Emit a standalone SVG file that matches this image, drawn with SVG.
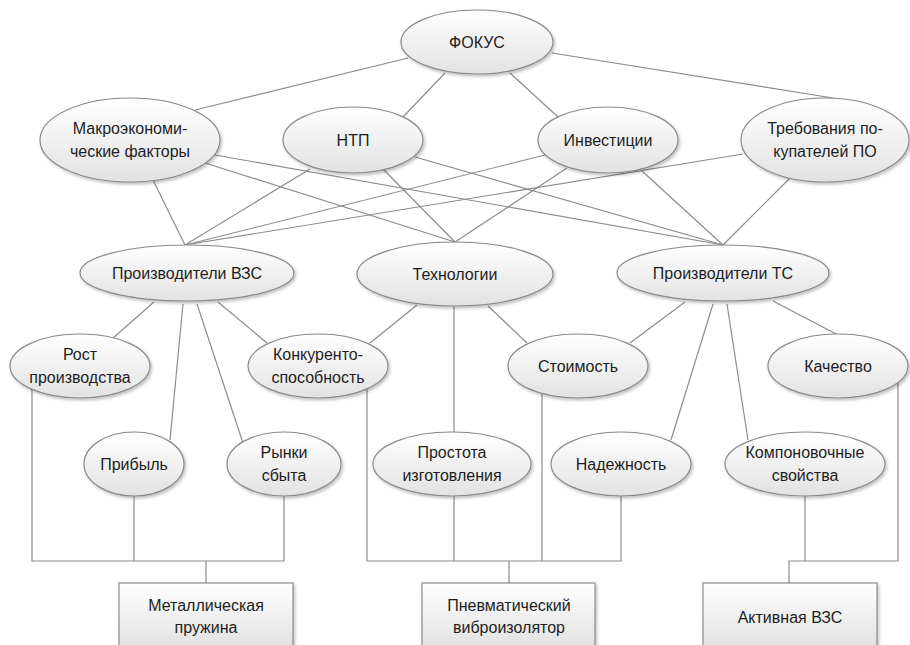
<svg xmlns="http://www.w3.org/2000/svg" width="910" height="645" viewBox="0 0 910 645">
  <defs>
    <linearGradient id="fillGrad" x1="0" y1="0" x2="0" y2="1">
      <stop offset="0" stop-color="#ffffff"/>
      <stop offset="1" stop-color="#e2e2e2"/>
    </linearGradient>
    <filter id="shadow" x="-10%" y="-10%" width="125%" height="130%">
      <feDropShadow dx="1.5" dy="2" stdDeviation="1.5" flood-color="#000" flood-opacity="0.25"/>
    </filter>
  </defs>
  <style>
    .node ellipse, .node rect { fill: url(#fillGrad); stroke: #8a8a8a; stroke-width: 1.2; filter: url(#shadow); }
    .node text { font-family: "Liberation Sans", "DejaVu Sans", sans-serif; font-size: 16px; fill: #1e1e1e; text-anchor: middle; }
    #connectors line, #connectors polyline { stroke: #8c8c8c; stroke-width: 1.2; fill: none; }
  </style>
  <rect width="910" height="645" fill="#ffffff"/>

  <g id="connectors">
    <!-- top level -->
    <line x1="408" y1="58" x2="195" y2="110"/>
    <line x1="445" y1="73" x2="403" y2="117"/>
    <line x1="510" y1="73" x2="558" y2="117"/>
    <line x1="552" y1="53" x2="833" y2="98"/>
    <!-- factors to second level -->
    <line x1="153" y1="180" x2="185" y2="245"/>
    <line x1="310" y1="169" x2="185" y2="245"/>
    <line x1="545" y1="155" x2="185" y2="245"/>
    <line x1="743" y1="154" x2="185" y2="245"/>
    <line x1="205" y1="163" x2="455" y2="242"/>
    <line x1="215" y1="155" x2="723" y2="245"/>
    <line x1="383" y1="169" x2="455" y2="242"/>
    <line x1="415" y1="157" x2="723" y2="245"/>
    <line x1="567" y1="168" x2="455" y2="242"/>
    <line x1="642" y1="171" x2="723" y2="245"/>
    <line x1="790" y1="178" x2="723" y2="245"/>
    <!-- second level to criteria -->
    <line x1="154" y1="302" x2="113" y2="338"/>
    <line x1="183" y1="304" x2="170" y2="440"/>
    <line x1="197" y1="304" x2="243" y2="443"/>
    <line x1="218" y1="302" x2="267" y2="343"/>
    <line x1="417" y1="305" x2="370" y2="343"/>
    <line x1="454" y1="306" x2="454" y2="432"/>
    <line x1="488" y1="306" x2="527" y2="343"/>
    <line x1="685" y1="302" x2="630" y2="343"/>
    <line x1="713" y1="304" x2="671" y2="440"/>
    <line x1="727" y1="304" x2="748" y2="440"/>
    <line x1="773" y1="301" x2="838" y2="335"/>
    <!-- criteria to alternatives -->
    <polyline points="32,389 32,561 284,561 284,496"/>
    <line x1="134" y1="496" x2="134" y2="561"/>
    <line x1="206" y1="561" x2="206" y2="583"/>
    <polyline points="367,389 367,561 621,561 621,496"/>
    <line x1="542" y1="393" x2="542" y2="561"/>
    <line x1="454" y1="496" x2="454" y2="561"/>
    <line x1="509" y1="561" x2="509" y2="583"/>
    <polyline points="898,383 898,561 789,561 789,583"/>
    <line x1="805" y1="496" x2="805" y2="561"/>
  </g>

  <g id="focus" class="node">
    <ellipse cx="477" cy="42" rx="76" ry="32"/>
    <text x="477" y="48">ФОКУС</text>
  </g>

  <g id="macro" class="node">
    <ellipse cx="130" cy="140" rx="90" ry="42"/>
    <text x="130" y="134">Макроэкономи-</text>
    <text x="130" y="157">ческие факторы</text>
  </g>
  <g id="ntp" class="node">
    <ellipse cx="353" cy="140" rx="70" ry="33"/>
    <text x="353" y="146">НТП</text>
  </g>
  <g id="invest" class="node">
    <ellipse cx="608" cy="140" rx="70" ry="33"/>
    <text x="608" y="146">Инвестиции</text>
  </g>
  <g id="demands" class="node">
    <ellipse cx="825" cy="140" rx="84" ry="42"/>
    <text x="825" y="134">Требования по-</text>
    <text x="825" y="157">купателей ПО</text>
  </g>

  <g id="vzs-makers" class="node">
    <ellipse cx="187" cy="273" rx="107" ry="28"/>
    <text x="187" y="279">Производители ВЗС</text>
  </g>
  <g id="tech" class="node">
    <ellipse cx="455" cy="274" rx="98" ry="32"/>
    <text x="455" y="280">Технологии</text>
  </g>
  <g id="ts-makers" class="node">
    <ellipse cx="723" cy="273" rx="106" ry="28"/>
    <text x="723" y="279">Производители ТС</text>
  </g>

  <g id="growth" class="node">
    <ellipse cx="80" cy="366" rx="70" ry="32"/>
    <text x="80" y="360">Рост</text>
    <text x="80" y="383">производства</text>
  </g>
  <g id="compet" class="node">
    <ellipse cx="318" cy="366" rx="70" ry="32"/>
    <text x="318" y="360">Конкуренто-</text>
    <text x="318" y="383">способность</text>
  </g>
  <g id="cost" class="node">
    <ellipse cx="578" cy="366" rx="70" ry="32"/>
    <text x="578" y="372">Стоимость</text>
  </g>
  <g id="quality" class="node">
    <ellipse cx="838" cy="366" rx="70" ry="32"/>
    <text x="838" y="372">Качество</text>
  </g>

  <g id="profit" class="node">
    <ellipse cx="134" cy="464" rx="50" ry="32"/>
    <text x="134" y="470">Прибыль</text>
  </g>
  <g id="markets" class="node">
    <ellipse cx="284" cy="464" rx="57" ry="32"/>
    <text x="284" y="458">Рынки</text>
    <text x="284" y="481">сбыта</text>
  </g>
  <g id="simplicity" class="node">
    <ellipse cx="452" cy="464" rx="79" ry="32"/>
    <text x="452" y="458">Простота</text>
    <text x="452" y="481">изготовления</text>
  </g>
  <g id="reliability" class="node">
    <ellipse cx="621" cy="464" rx="70" ry="32"/>
    <text x="621" y="470">Надежность</text>
  </g>
  <g id="layout" class="node">
    <ellipse cx="805" cy="464" rx="80" ry="32"/>
    <text x="805" y="458">Компоновочные</text>
    <text x="805" y="481">свойства</text>
  </g>

  <g id="spring" class="node">
    <rect x="119" y="583" width="174" height="64"/>
    <text x="206" y="611">Металлическая</text>
    <text x="206" y="633">пружина</text>
  </g>
  <g id="pneumatic" class="node">
    <rect x="422" y="583" width="173" height="64"/>
    <text x="509" y="611">Пневматический</text>
    <text x="509" y="633">виброизолятор</text>
  </g>
  <g id="active" class="node">
    <rect x="703" y="583" width="174" height="64"/>
    <text x="790" y="623">Активная ВЗС</text>
  </g>
</svg>
